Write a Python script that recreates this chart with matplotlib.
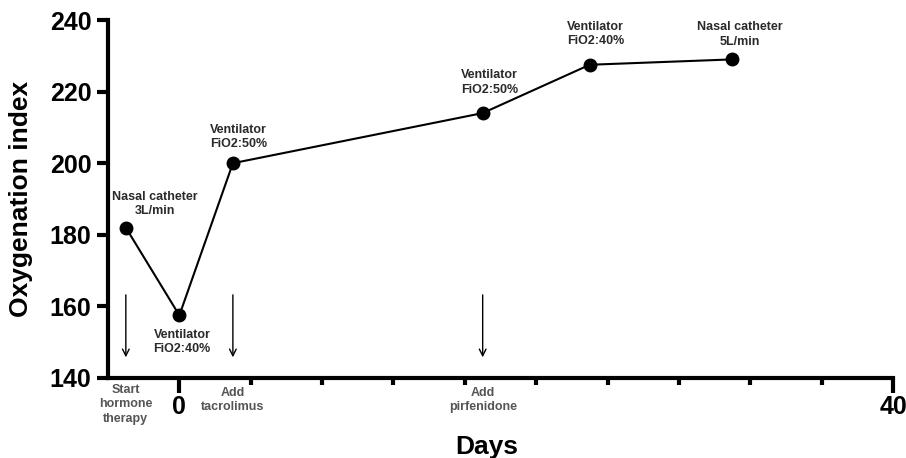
import matplotlib
matplotlib.use("Agg")
import matplotlib.pyplot as plt

# data
days = [-3, 0, 3, 17, 23, 31]
oxy_index = [182, 157.5, 200, 214, 227.5, 229]
point_labels = ["Nasal catheter\n3L/min", "Ventilator\nFiO2:40%", "Ventilator\nFiO2:50%",
                "Ventilator\nFiO2:50%", "Ventilator\nFiO2:40%", "Nasal catheter\n5L/min"]
event_days = [-3, 3, 17]
event_labels = ["Start\nhormone\ntherapy", "Add\ntacrolimus", "Add\npirfenidone"]

plt.rcParams['font.family'] = ['Liberation Sans', 'DejaVu Sans']

fig = plt.figure(figsize=(9.06, 4.58), dpi=100)
ax = fig.add_axes([0.1192, 0.1747, 0.8665, 0.7816])

ax.plot(days, oxy_index, color='black', lw=1.5, marker='o', ms=9, zorder=3)

# label offsets (points) for each data point
offsets = [(21, 17), (2, -19), (4, 19), (5, 22), (4, 22), (5, 18)]
for x, y, lab, off in zip(days, oxy_index, point_labels, offsets):
    ax.annotate(lab, (x, y), xytext=off, textcoords='offset points',
                ha='center', va='center', fontsize=9, fontweight='bold',
                color='#2a2a2a', linespacing=1.25)

# event arrows and labels under the axis
for d, lab in zip(event_days, event_labels):
    ax.annotate('', xy=(d, 145), xytext=(d, 164),
                arrowprops=dict(arrowstyle='->', color='black', lw=1,
                                mutation_scale=12))
    ax.text(d, 133.8 if lab.count('\n') == 1 else 132.6, lab, ha='center', va='center',
            fontsize=9, fontweight='bold', color='#555555', linespacing=1.25,
            clip_on=False)

ax.set_xlim(-4, 40)
ax.set_ylim(140, 240)
ax.set_xticks([0, 40])
ax.set_xticks(range(4, 40, 4), minor=True)
ax.set_yticks(range(140, 241, 20))

for s in ['top', 'right']:
    ax.spines[s].set_visible(False)
for s in ['left', 'bottom']:
    ax.spines[s].set_linewidth(3)

ax.tick_params(axis='y', which='major', length=8, width=3, pad=4)
ax.tick_params(axis='x', which='major', length=10.5, width=3, pad=2)
ax.tick_params(axis='x', which='minor', length=5, width=3)

for t in ax.get_xticklabels() + ax.get_yticklabels():
    t.set_fontweight('bold')
    t.set_fontsize(18)

ax.set_xlabel('Days', fontsize=19, fontweight='bold')
ax.set_ylabel('Oxygenation index', fontsize=19, fontweight='bold')
ax.xaxis.set_label_coords(0.483, -0.158)
ax.yaxis.set_label_coords(-0.096, 0.5)

fig.savefig('out.png', dpi=100)
